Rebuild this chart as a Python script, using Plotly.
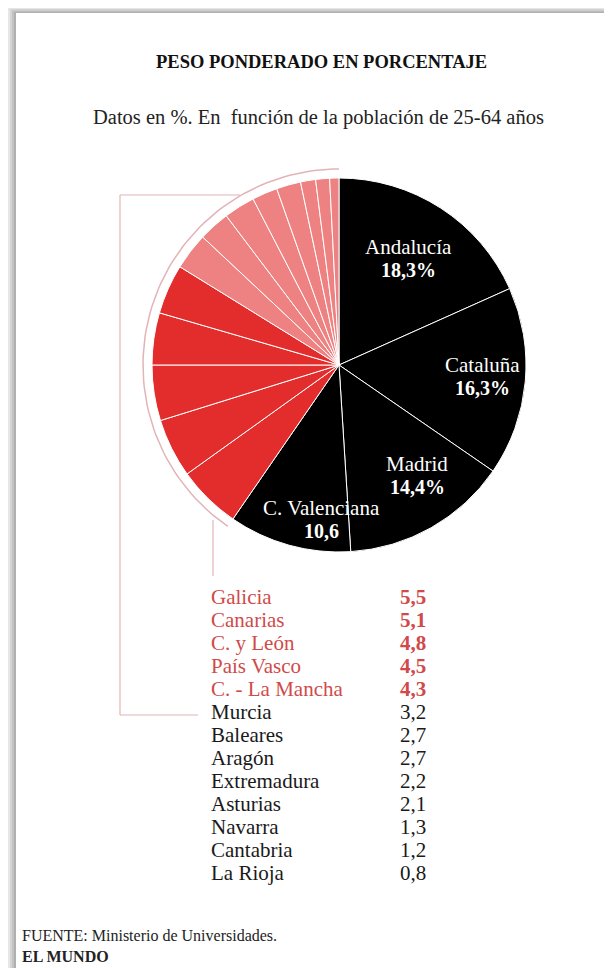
import math
import plotly.graph_objects as go

# ---------------- data ----------------
regions = ["Andalucía", "Cataluña", "Madrid", "C. Valenciana",
           "Galicia", "Canarias", "C. y León", "País Vasco", "C. - La Mancha",
           "Murcia", "Baleares", "Aragón", "Extremadura", "Asturias",
           "Navarra", "Cantabria", "La Rioja"]
weights = [18.3, 16.3, 14.4, 10.6,
           5.5, 5.1, 4.8, 4.5, 4.3,
           3.2, 2.7, 2.7, 2.2, 2.1, 1.3, 1.2, 0.8]
pie_value_text = ["18,3%", "16,3%", "14,4%", "10,6"]
groups = ["big"] * 4 + ["mid"] * 5 + ["small"] * 8

title = "PESO PONDERADO EN PORCENTAJE"
subtitle = "Datos en %. En  función de la población de 25-64 años"
source = "FUENTE: Ministerio de Universidades."
brand = "EL MUNDO"

# ---------------- styles ----------------
PAGE_W, PAGE_H, BODY = 612, 968, 8      # browser body margin
W, H = PAGE_W - BODY, PAGE_H - BODY
CX, CY, R = 339, 365, 187               # page pixel coordinates
SERIF = "Liberation Serif"
col = {"big": "#000000", "mid": "#e32c2c", "small": "#ee8282"}
txtcol = {"mid": "#d04a4a", "small": "#1a1a1a"}
label_r = [0.68, 0.77, 0.72, 0.83]      # radial position of in-slice labels
label_dang = [0, -1, -6, -9]            # angular nudge (deg)

fig = go.Figure()

fig.add_trace(go.Pie(
    labels=regions, values=weights, sort=False, direction="clockwise",
    rotation=0, textinfo="none",
    marker=dict(colors=[col[g] for g in groups],
                line=dict(color="white", width=1)),
    domain=dict(x=[(CX - R - BODY) / W, (CX + R - BODY) / W],
                y=[(PAGE_H - CY - R) / H, (PAGE_H - CY + R) / H]),
    showlegend=False, hoverinfo="label+value",
))

total = sum(weights)
cum = [sum(weights[:i]) for i in range(len(weights) + 1)]

# outer arc over the red groups
start_frac = cum[4] / total
RA = 196
n = 80
ax, ay = [], []
for i in range(n + 1):
    th = 2 * math.pi * (start_frac + (1 - start_frac) * i / n)
    ax.append(CX + RA * math.sin(th))
    ay.append(CY - RA * math.cos(th))
fig.add_trace(go.Scatter(x=ax, y=ay, mode="lines",
                         line=dict(color="#e2b4b8", width=1.5),
                         hoverinfo="skip", showlegend=False))

annotations = []
# in-slice labels
for i in range(4):
    mid = (cum[i] + cum[i + 1]) / 2 / total * 360 + label_dang[i]
    th = math.radians(mid)
    lx = CX + label_r[i] * R * math.sin(th)
    ly = CY - label_r[i] * R * math.cos(th)
    annotations.append(dict(x=lx, y=ly - 11, text=regions[i], showarrow=False,
                            font=dict(family=SERIF, size=21, color="white")))
    annotations.append(dict(x=lx, y=ly + 12, text=f"<b>{pie_value_text[i]}</b>",
                            showarrow=False,
                            font=dict(family=SERIF, size=20, color="white")))

# bracket lines
line_style = dict(color="#e2b4b8", width=1.2)
shapes = [
    dict(type="line", x0=120, y0=195, x1=240, y1=195, line=line_style),
    dict(type="line", x0=120, y0=195, x1=120, y1=715, line=line_style),
    dict(type="line", x0=120, y0=715, x1=198, y1=715, line=line_style),
    dict(type="line", x0=213, y0=520, x1=213, y1=576, line=line_style),
]
# card shadow
for i, g in enumerate(["#b0b0b0", "#c2c2c2", "#d4d4d4", "#e6e6e6"]):
    shapes.append(dict(type="rect", x0=0, y0=0, x1=PAGE_W, y1=13 - i * 1.3,
                       fillcolor=g, line=dict(width=0), layer="below"))
    shapes.append(dict(type="rect", x0=0, y0=0, x1=16 - i * 2, y1=PAGE_H,
                       fillcolor=g, line=dict(width=0), layer="below"))

annotations += [
    dict(x=321, y=62, text=f"<b>{title}</b>", showarrow=False,
         font=dict(family=SERIF, size=18.5, color="#111")),
    dict(x=318, y=117, text=subtitle, showarrow=False,
         font=dict(family=SERIF, size=20.5, color="#222")),
    dict(x=20, y=946, text=f"{source}<br><b>{brand}</b>", showarrow=False,
         xanchor="left", align="left",
         font=dict(family=SERIF, size=16, color="#222")),
]

row0, step = 597, 23
for k, (name, v, g) in enumerate(zip(regions[4:], weights[4:], groups[4:])):
    y = row0 + k * step
    vtxt = f"{v:.1f}".replace(".", ",")
    if g == "mid":
        vtxt = f"<b>{vtxt}</b>"
    annotations.append(dict(x=209, y=y, text=name, showarrow=False,
                            xanchor="left",
                            font=dict(family=SERIF, size=21, color=txtcol[g])))
    annotations.append(dict(x=428, y=y, text=vtxt, showarrow=False,
                            xanchor="right",
                            font=dict(family=SERIF, size=21, color=txtcol[g])))

fig.update_layout(
    width=W, height=H, margin=dict(l=0, r=0, t=0, b=0),
    paper_bgcolor="white", plot_bgcolor="rgba(0,0,0,0)",
    xaxis=dict(range=[BODY, PAGE_W], visible=False, fixedrange=True),
    yaxis=dict(range=[PAGE_H, BODY], visible=False, fixedrange=True),
    shapes=shapes, annotations=annotations,
)

fig.write_html("out.html")
